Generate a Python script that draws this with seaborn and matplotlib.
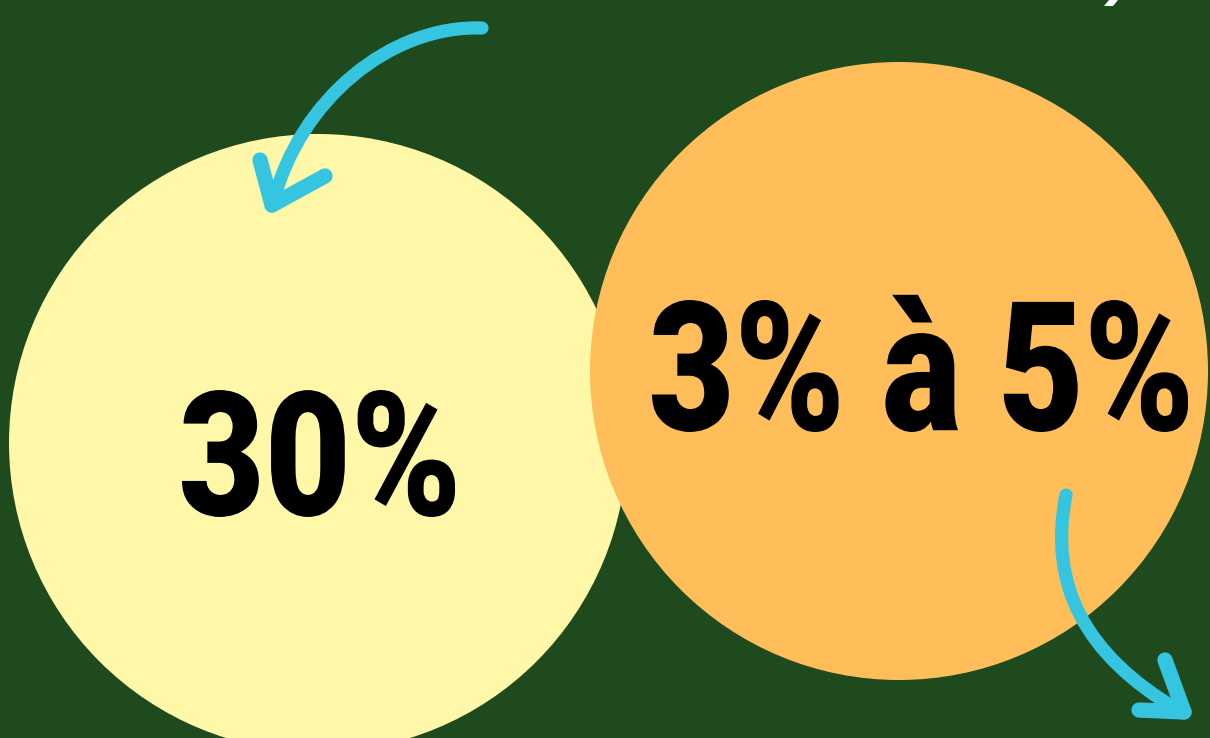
import matplotlib.pyplot as plt
import seaborn as sns
from matplotlib.patches import Circle, PathPatch, Polygon
from matplotlib.path import Path
from matplotlib.textpath import TextPath
from matplotlib.font_manager import FontProperties
from matplotlib.patheffects import AbstractPathEffect
from matplotlib.transforms import Affine2D

# données du visuel
labels = ["30%", "3% à 5%"]
circle_colors = ["#FFF8A8", "#FFBE5A"]
centers_x = [318, 899]
centers_y = [443, 371]
radius = [309, 309]

bg = "#1E4A1E"
cyan = "#36C5E0"

# boîtes d'encre des textes (gauche, droite, haut, bas)
text_boxes = [(182, 455, 390, 517), (652, 1188, 300, 432)]

sns.set_theme(style="white")
plt.rcParams['font.family'] = ['Roboto', 'DejaVu Sans']
fp = FontProperties(family=['Roboto', 'DejaVu Sans'], weight=900)


class Stretch(AbstractPathEffect):
    """étire le texte verticalement depuis la ligne de base (police condensée)"""
    def __init__(self, sy):
        super().__init__()
        self.sy = sy

    def draw_path(self, renderer, gc, tpath, affine, rgbFace=None):
        renderer.draw_path(gc, tpath, Affine2D().scale(1, self.sy) + affine, rgbFace)


fig = plt.figure(figsize=(12.1, 7.38), dpi=100, facecolor=bg)
ax = fig.add_axes([0, 0, 1, 1])
ax.set_facecolor(bg)
ax.set_xlim(0, 1210)
ax.set_ylim(738, 0)
ax.set_aspect("equal")
ax.axis("off")

# cercles
for cx, cy, r, c in zip(centers_x, centers_y, radius, circle_colors):
    ax.add_patch(Circle((cx, cy), r, facecolor=c, edgecolor="none", zorder=1))

# textes
dig = TextPath((0, 0), "30", size=100, prop=fp).get_extents()
for lab, (x0, x1, top, bottom) in zip(labels, text_boxes):
    ext = TextPath((0, 0), lab, size=100, prop=fp).get_extents()
    fs = (x1 - x0) * 72 / ext.width
    k = fs / 72
    sy = (bottom - top) / (dig.height * k)
    base = bottom + dig.y0 * k * sy
    ax.text(x0 - ext.x0 * k, base, lab, ha="left", va="baseline",
            fontsize=fs, fontproperties=fp, color="black", zorder=3,
            path_effects=[Stretch(sy)])


def arrow(pts, tip, wing1, wing2):
    path = Path(pts, [Path.MOVETO, Path.CURVE4, Path.CURVE4, Path.CURVE4])
    ax.add_patch(PathPatch(path, facecolor="none", edgecolor=cyan, lw=9.5,
                           capstyle="round", zorder=4))
    for w in (wing1, wing2):
        ax.plot([w[0], tip[0]], [w[1], tip[1]], color=cyan, lw=11,
                solid_capstyle="round", zorder=4)


# flèches décoratives
arrow([(482, 28), (390, 25), (300, 100), (274, 200)],
      (272, 205), (260, 160), (325, 176))
arrow([(1066, 495), (1048, 585), (1085, 655), (1178, 710)],
      (1184, 712), (1165, 660), (1139, 710))

# fragment de lettre blanche coupé en haut
ax.add_patch(Polygon([(1104, 6), (1109, 0), (1118, 0), (1113, 6)],
                     closed=True, facecolor="white", edgecolor="none", zorder=2))

fig.savefig("out.png", dpi=100, facecolor=bg)
